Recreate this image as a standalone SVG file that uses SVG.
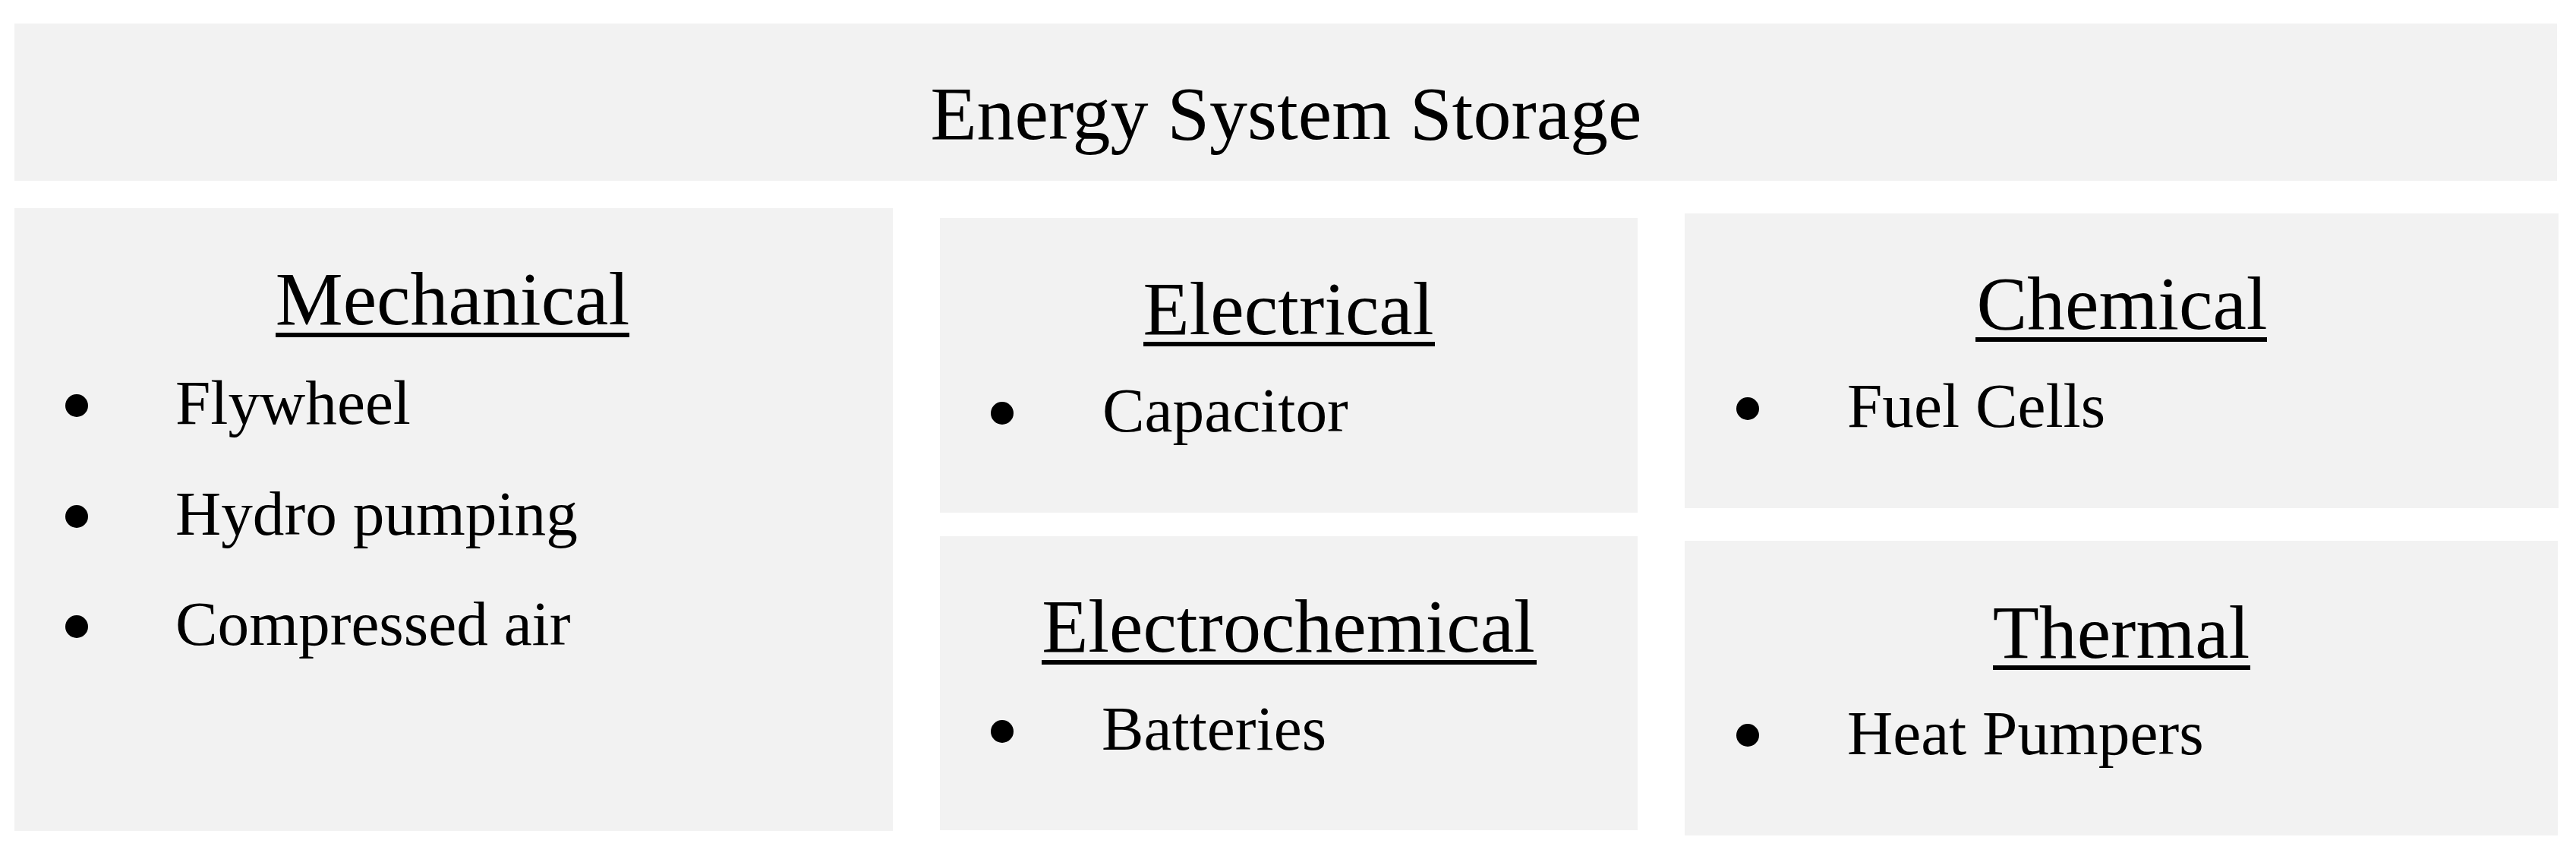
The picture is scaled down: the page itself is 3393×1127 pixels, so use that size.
<svg xmlns="http://www.w3.org/2000/svg" width="3393" height="1127" viewBox="0 0 3393 1127">
<style>
.box{fill:#f2f2f2}
.t{font-family:"Liberation Serif","Times New Roman",serif;fill:#000}
.h{font-size:100px;text-anchor:middle}
.i{font-size:83.3px}
.ul{fill:#000}
.b{fill:#000}
</style>
<rect width="3393" height="1127" fill="#fff"/>
<g id="title">
<rect class="box" x="19" y="31" width="3349" height="207"/>
<text class="t h" x="1694" y="183">Energy System Storage</text>
</g>
<g id="mechanical">
<rect class="box" x="19" y="274" width="1157" height="820"/>
<text class="t h" x="596" y="427">Mechanical</text>
<rect class="ul" x="363" y="438" width="466" height="6"/>
<circle class="b" cx="101" cy="534" r="15"/>
<text class="t i" x="231" y="558">Flywheel</text>
<circle class="b" cx="101" cy="680" r="15"/>
<text class="t i" x="231" y="704">Hydro pumping</text>
<circle class="b" cx="101" cy="825" r="15"/>
<text class="t i" x="231" y="849">Compressed air</text>
</g>
<g id="electrical">
<rect class="box" x="1238" y="287" width="919" height="388"/>
<text class="t h" x="1697" y="440">Electrical</text>
<rect class="ul" x="1506" y="450" width="384" height="6"/>
<circle class="b" cx="1320" cy="544" r="15"/>
<text class="t i" x="1452" y="568">Capacitor</text>
</g>
<g id="electrochemical">
<rect class="box" x="1238" y="706" width="919" height="387"/>
<text class="t h" x="1697" y="858">Electrochemical</text>
<rect class="ul" x="1372" y="869" width="652" height="6"/>
<circle class="b" cx="1320" cy="963" r="15"/>
<text class="t i" x="1451" y="987">Batteries</text>
</g>
<g id="chemical">
<rect class="box" x="2219" y="281" width="1151" height="388"/>
<text class="t h" x="2795" y="433">Chemical</text>
<rect class="ul" x="2602" y="444" width="384" height="6"/>
<circle class="b" cx="2302" cy="538" r="15"/>
<text class="t i" x="2433" y="562">Fuel Cells</text>
</g>
<g id="thermal">
<rect class="box" x="2219" y="712" width="1150" height="388"/>
<text class="t h" x="2794" y="866">Thermal</text>
<rect class="ul" x="2625" y="876" width="339" height="6"/>
<circle class="b" cx="2302" cy="968" r="15"/>
<text class="t i" x="2433" y="993">Heat Pumpers</text>
</g>
<g id="connectors"></g>
</svg>
